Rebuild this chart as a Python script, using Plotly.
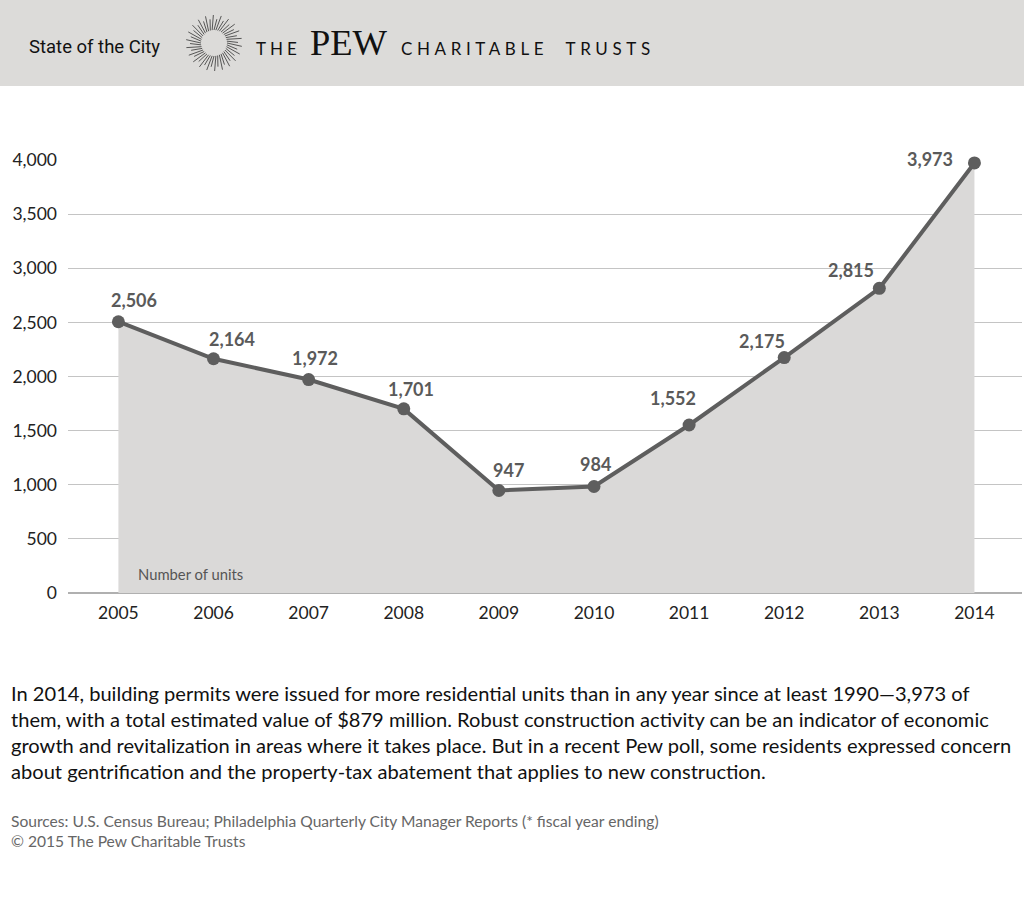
import math
import plotly.graph_objects as go

years = [2005, 2006, 2007, 2008, 2009, 2010, 2011, 2012, 2013, 2014]
units = [2506, 2164, 1972, 1701, 947, 984, 1552, 2175, 2815, 3973]
value_labels = ["2,506", "2,164", "1,972", "1,701", "947", "984", "1,552", "2,175", "2,815", "3,973"]
y_ticks = [0, 500, 1000, 1500, 2000, 2500, 3000, 3500, 4000]
y_tick_text = ["0", "500", "1,000", "1,500", "2,000", "2,500", "3,000", "3,500", "4,000"]
# label offsets (px) relative to each point
label_dx = [16, 18, 6, 7, 10, 2, -16, -22, -28, -44]
label_dy = [22, 20, 22, 20, 20, 22, 27, 17, 18, 4]

W, H = 1024, 913
L, R, T, B = 68, 2, 160, 320
pw, ph = W - L - R, H - T - B

def px(x):
    return (x - L) / pw

def py(y):
    return (H - B - y) / ph

FONT = "Lato"
fig = go.Figure()
fig.add_trace(go.Scatter(
    x=years, y=units, mode="lines+markers",
    fill="tozeroy", fillcolor="#dad9d8",
    line=dict(color="#5e5e5e", width=4),
    marker=dict(size=13, color="#5e5e5e"),
    hoverinfo="skip", cliponaxis=False,
))

annotations = []
for x, y, t, dx, dy in zip(years, units, value_labels, label_dx, label_dy):
    annotations.append(dict(x=x, y=y, xref="x", yref="y", text="<b>" + t + "</b>",
                            showarrow=False, xshift=dx, yshift=dy,
                            font=dict(family=FONT, size=18, color="#5a5a5a")))

annotations.append(dict(x=px(136), y=py(574), xref="paper", yref="paper", xanchor="left", yanchor="middle",
                        text="Number of units", showarrow=False,
                        font=dict(family=FONT, size=14.8, color="#555555")))

# header
annotations.append(dict(x=px(27), y=py(47), xref="paper", yref="paper", xanchor="left", yanchor="middle",
                        text="State of the City", showarrow=False,
                        font=dict(family="Roboto", size=18.5, color="#111111")))
annotations.append(dict(x=px(254), y=py(48), xref="paper", yref="paper", xanchor="left", yanchor="middle",
                        text='<span style="letter-spacing:4px">THE</span>', showarrow=False,
                        font=dict(family=FONT, size=17, color="#111111")))
annotations.append(dict(x=px(308), y=py(42), xref="paper", yref="paper", xanchor="left", yanchor="middle",
                        text="PEW", showarrow=False,
                        font=dict(family="Liberation Serif", size=36.5, color="#111111")))
annotations.append(dict(x=px(399), y=py(48), xref="paper", yref="paper", xanchor="left", yanchor="middle",
                        text='<span style="letter-spacing:4.6px">CHARITABLE  TRUSTS</span>', showarrow=False,
                        font=dict(family=FONT, size=17, color="#111111")))

body = ("In 2014, building permits were issued for more residential units than in any year since at least 1990\u20143,973 of<br>"
        "them, with a total estimated value of $879 million. Robust construction activity can be an indicator of economic<br>"
        "growth and revitalization in areas where it takes place. But in a recent Pew poll, some residents expressed concern<br>"
        "about gentrification and the property-tax abatement that applies to new construction.")
annotations.append(dict(x=px(9), y=py(679), xref="paper", yref="paper", xanchor="left", yanchor="top",
                        text=body, showarrow=False, align="left",
                        font=dict(family=FONT, size=20.1, color="#111111")))
annotations.append(dict(x=px(9), y=py(810), xref="paper", yref="paper", xanchor="left", yanchor="top",
                        text="Sources: U.S. Census Bureau; Philadelphia Quarterly City Manager Reports (* fiscal year ending)<br>"
                             "\u00a9 2015 The Pew Charitable Trusts",
                        showarrow=False, align="left",
                        font=dict(family=FONT, size=15.6, color="#666666")))

shapes = [dict(type="rect", xref="paper", yref="paper", x0=px(0), x1=px(W), y0=py(0), y1=py(86),
               fillcolor="#dcdbd9", line=dict(width=0), layer="below")]
# sunburst logo
cx, cy = 214, 43
n = 44
for i in range(n):
    a = 2 * math.pi * i / n
    r0, r1 = 13, 28 if i % 2 == 0 else 24
    shapes.append(dict(type="line", xref="paper", yref="paper",
                       x0=px(cx + r0 * math.cos(a)), y0=py(cy + r0 * math.sin(a)),
                       x1=px(cx + r1 * math.cos(a + 0.12)), y1=py(cy + r1 * math.sin(a + 0.12)),
                       line=dict(color="#333333", width=0.8)))

fig.update_layout(
    width=W, height=H,
    margin=dict(l=L, r=R, t=T, b=B),
    paper_bgcolor="white", plot_bgcolor="white",
    showlegend=False,
    xaxis=dict(range=[2004.47, 2014.5], tickvals=years, ticktext=[str(y) for y in years],
               showgrid=False, zeroline=False, showline=False, ticks="",
               tickfont=dict(family=FONT, size=17.5, color="#222222")),
    yaxis=dict(range=[0, 4000], tickvals=y_ticks, ticktext=y_tick_text,
               showgrid=True, gridcolor="#c4c4c4", gridwidth=1, zeroline=True, zerolinecolor="#b0b0b0",
               showline=False, ticks="", ticklen=0,
               tickfont=dict(family=FONT, size=17.5, color="#222222")),
    annotations=annotations, shapes=shapes,
)
fig.update_xaxes(ticklabelstandoff=7)
fig.update_yaxes(ticklabelstandoff=10)
fig.write_html("out.html", config={"displayModeBar": False},
               post_script="document.body.style.margin='0';document.body.style.overflow='hidden';")
